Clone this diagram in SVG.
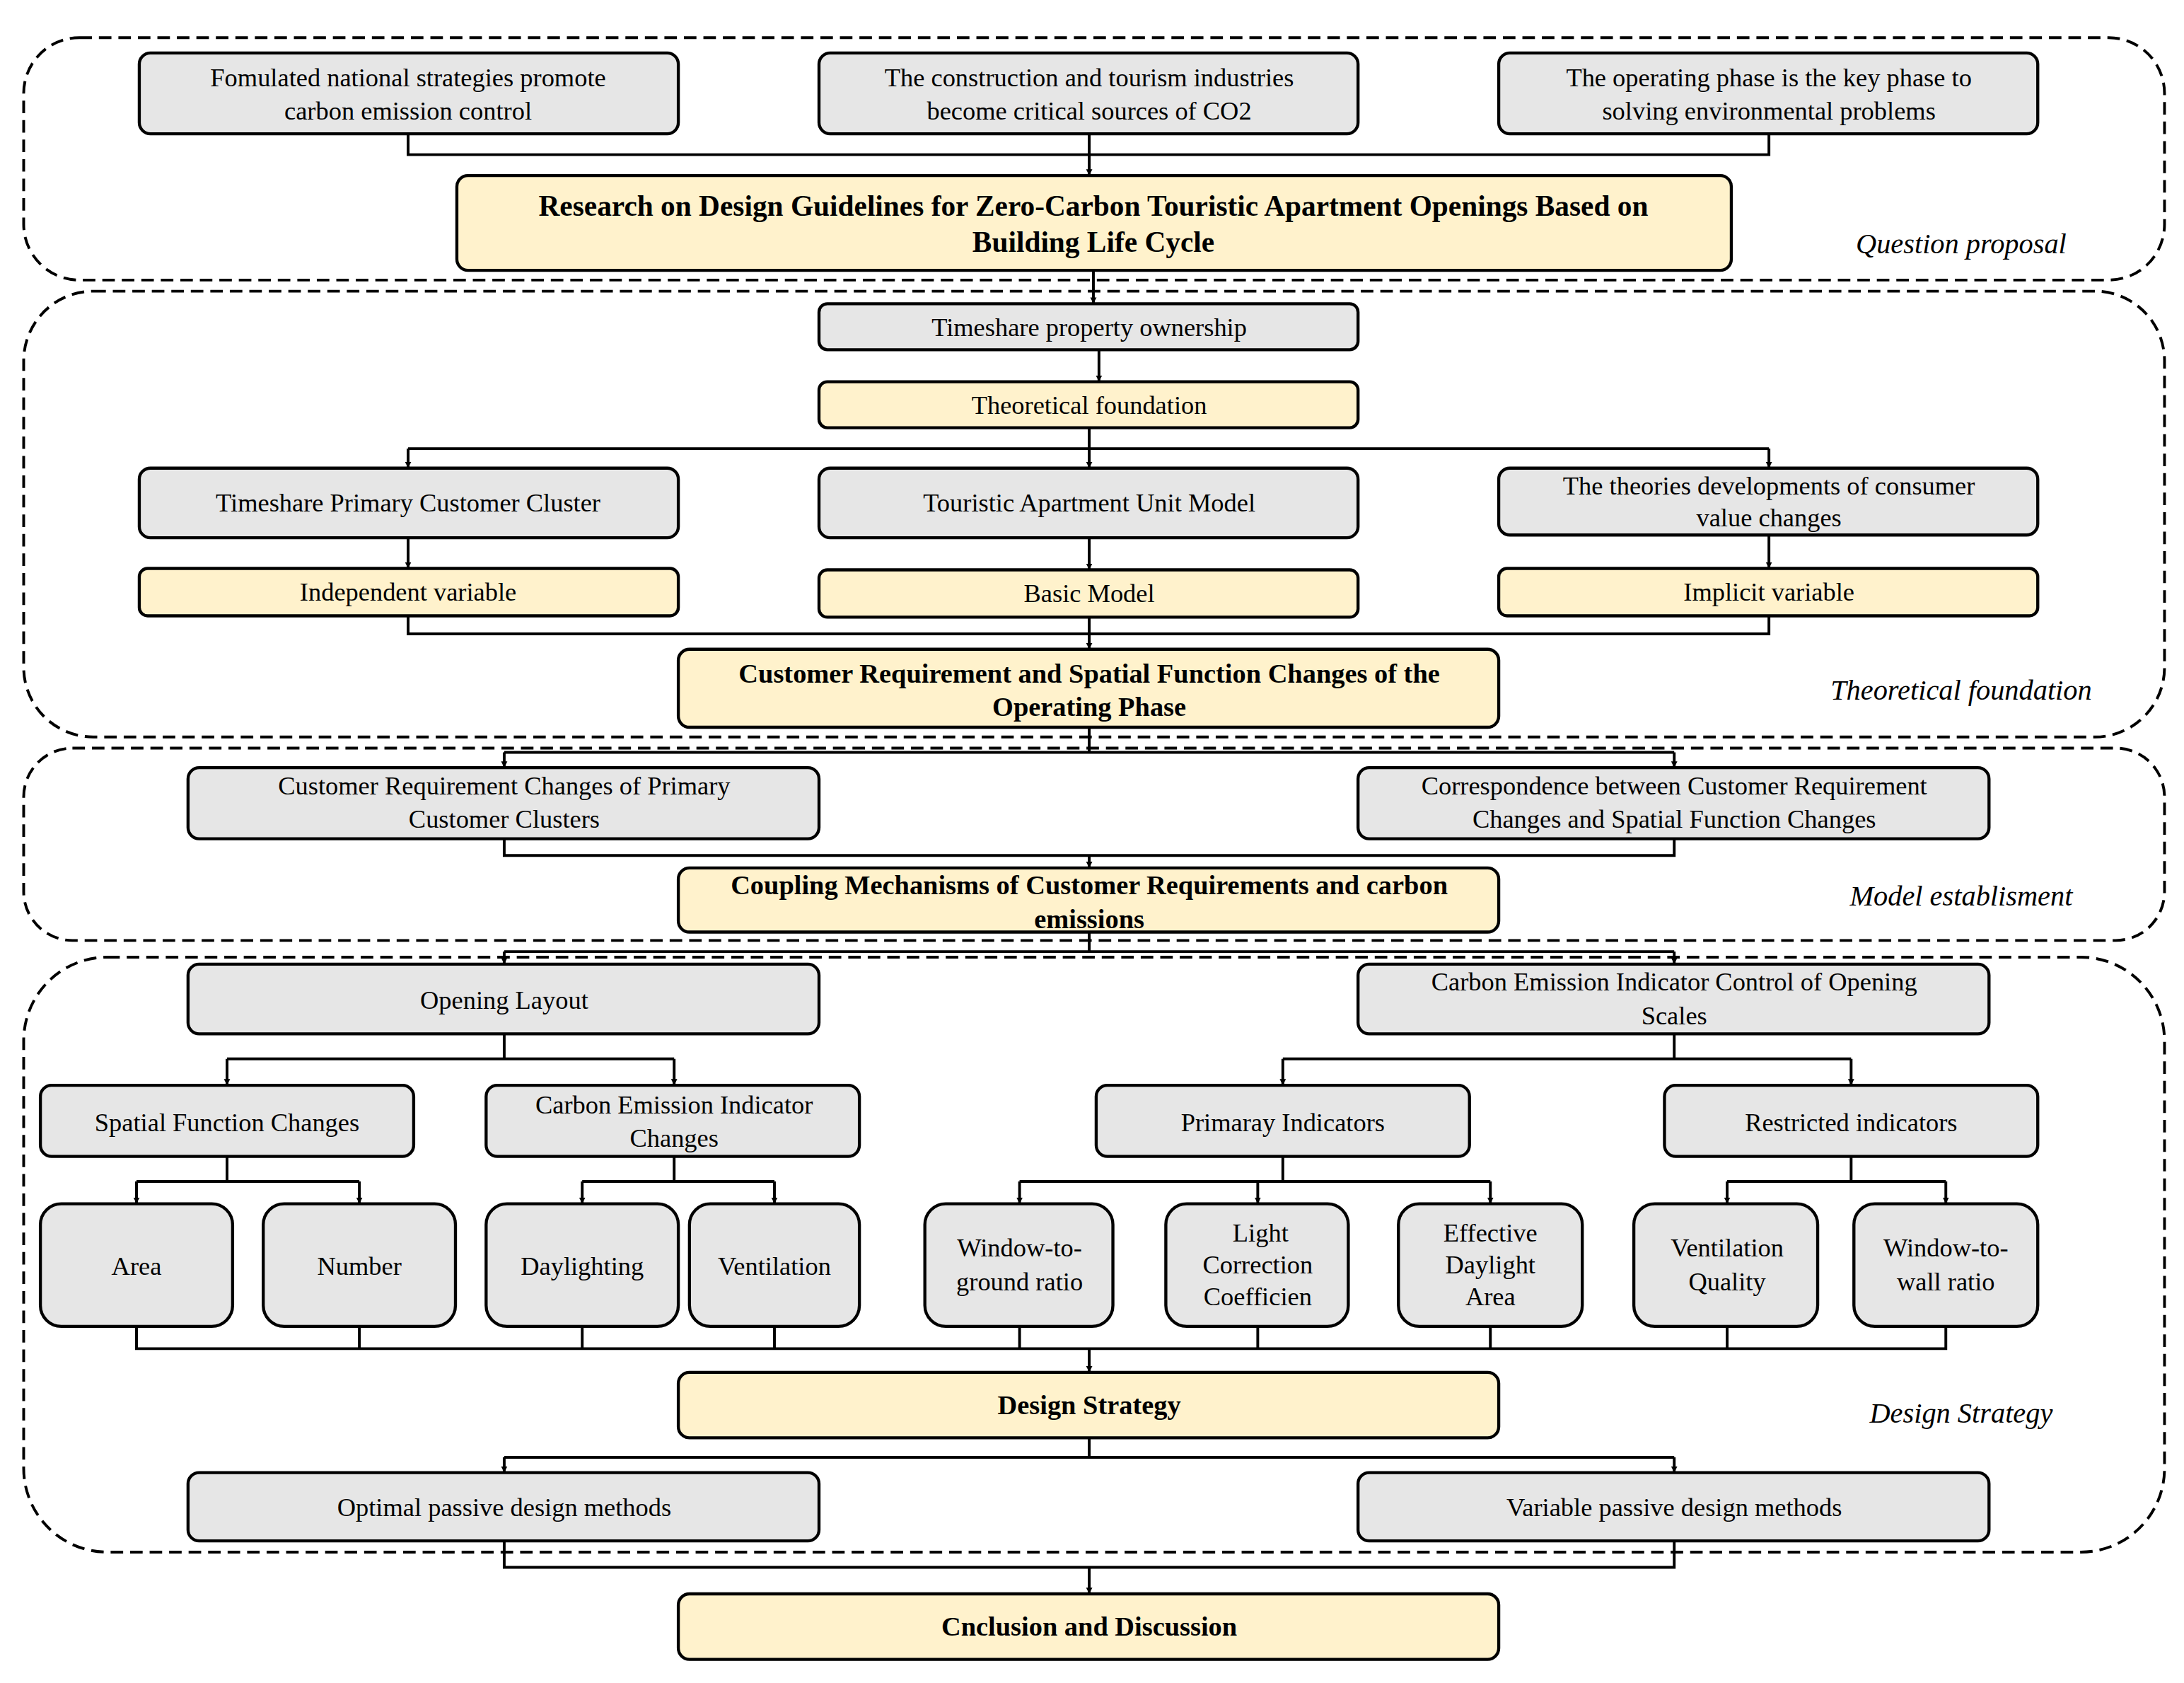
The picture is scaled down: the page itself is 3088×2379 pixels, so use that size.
<svg xmlns="http://www.w3.org/2000/svg" width="3088" height="2379" viewBox="0 0 3088 2379">
<style>
.g{fill:#e6e6e6;stroke:#000;stroke-width:2.2}
.y{fill:#fff2cc;stroke:#000;stroke-width:2.2}
.reg{fill:none;stroke:#000;stroke-width:2;stroke-dasharray:9 5}
text{font-family:"Liberation Serif","Times New Roman",serif;font-size:18.5px;text-anchor:middle;fill:#000}
.b{font-weight:bold;font-size:19.5px}
.t{font-weight:bold;font-size:21px}
.i{font-style:italic;font-size:20.5px}
.c path{fill:none;stroke:#000;stroke-width:2}
</style>
<defs><marker id="a" viewBox="0 0 10 10" refX="10" refY="5" markerWidth="4.5" markerHeight="5.5" orient="auto" markerUnits="userSpaceOnUse"><path d="M0,0L10,5L0,10Z" fill="#000"/></marker></defs>
<rect width="3088" height="2379" fill="#fff"/>
<g transform="scale(1.9694)">
<g id="regions">
<rect class="reg" x="17" y="27" width="1537" height="174" rx="40"/>
<rect class="reg" x="17" y="209" width="1537" height="320" rx="50"/>
<rect class="reg" x="17" y="537" width="1537" height="138" rx="35"/>
<rect class="reg" x="17" y="687" width="1537" height="427" rx="60"/>
<text class="i" x="1408" y="182">Question proposal</text>
<text class="i" x="1408" y="502">Theoretical foundation</text>
<text class="i" x="1408" y="650">Model establisment</text>
<text class="i" x="1408" y="1021">Design Strategy</text>
</g>
<g class="c" id="connectors">
<path d="M293,96V111H1270V96M588,111M782,96V111M782,111V126" marker-end="url(#a)"/>
<path d="M785,194V218" marker-end="url(#a)"/>
<path d="M789,251V274" marker-end="url(#a)"/>
<path d="M782,307V322M293,322H1270"/>
<path d="M293,322V336" marker-end="url(#a)"/><path d="M782,322V336" marker-end="url(#a)"/><path d="M1270,322V336" marker-end="url(#a)"/>
<path d="M293,386V408" marker-end="url(#a)"/><path d="M782,386V409" marker-end="url(#a)"/><path d="M1270,384V408" marker-end="url(#a)"/>
<path d="M293,442V455H1270V442M782,443V455"/><path d="M782,455V466" marker-end="url(#a)"/>
<path d="M782,522V540M362,540H1202"/><path d="M362,540V551" marker-end="url(#a)"/><path d="M1202,540V551" marker-end="url(#a)"/>
<path d="M362,602V614H1202V602"/><path d="M782,614V623" marker-end="url(#a)"/>
<path d="M782,669V683M362,683H1202"/><path d="M362,683V692" marker-end="url(#a)"/><path d="M1202,683V692" marker-end="url(#a)"/>
<path d="M362,742V760M163,760H484"/><path d="M163,760V779" marker-end="url(#a)"/><path d="M484,760V779" marker-end="url(#a)"/>
<path d="M1202,742V760M921,760H1329"/><path d="M921,760V779" marker-end="url(#a)"/><path d="M1329,760V779" marker-end="url(#a)"/>
<path d="M163,830V848M98,848H258"/><path d="M98,848V864" marker-end="url(#a)"/><path d="M258,848V864" marker-end="url(#a)"/>
<path d="M484,830V848M418,848H556"/><path d="M418,848V864" marker-end="url(#a)"/><path d="M556,848V864" marker-end="url(#a)"/>
<path d="M921,830V848M732,848H1070"/><path d="M732,848V864" marker-end="url(#a)"/><path d="M903,848V864" marker-end="url(#a)"/><path d="M1070,848V864" marker-end="url(#a)"/>
<path d="M1329,830V848M1240,848H1397"/><path d="M1240,848V864" marker-end="url(#a)"/><path d="M1397,848V864" marker-end="url(#a)"/>
<path d="M98,952V968H1397V952M258,952V968M418,952V968M556,952V968M732,952V968M903,952V968M1070,952V968M1240,952V968"/>
<path d="M782,968V985" marker-end="url(#a)"/>
<path d="M782,1032V1046M362,1046H1202"/><path d="M362,1046V1057" marker-end="url(#a)"/><path d="M1202,1046V1057" marker-end="url(#a)"/>
<path d="M362,1106V1125H1202V1106"/><path d="M782,1125V1144" marker-end="url(#a)"/>
</g>
<g id="n1"><rect class="g" x="100" y="38" width="387" height="58" rx="8"/><text x="293" y="62">Fomulated national strategies promote</text><text x="293" y="86">carbon emission control</text></g>
<g id="n2"><rect class="g" x="588" y="38" width="387" height="58" rx="8"/><text x="782" y="62">The construction and tourism industries</text><text x="782" y="86">become critical sources of CO2</text></g>
<g id="n3"><rect class="g" x="1076" y="38" width="387" height="58" rx="8"/><text x="1270" y="62">The operating phase is the key phase to</text><text x="1270" y="86">solving environmental problems</text></g>
<g id="title"><rect class="y" x="328" y="126" width="915" height="68" rx="8"/><text class="t" x="785" y="155">Research on Design Guidelines for Zero-Carbon Touristic Apartment Openings Based on</text><text class="t" x="785" y="181">Building Life Cycle</text></g>
<g id="n4"><rect class="g" x="588" y="218" width="387" height="33" rx="6"/><text x="782" y="241">Timeshare property ownership</text></g>
<g id="n5"><rect class="y" x="588" y="274" width="387" height="33" rx="6"/><text x="782" y="297">Theoretical foundation</text></g>
<g id="n6"><rect class="g" x="100" y="336" width="387" height="50" rx="8"/><text x="293" y="367">Timeshare Primary Customer Cluster</text></g>
<g id="n7"><rect class="g" x="588" y="336" width="387" height="50" rx="8"/><text x="782" y="367">Touristic Apartment Unit Model</text></g>
<g id="n8"><rect class="g" x="1076" y="336" width="387" height="48" rx="8"/><text x="1270" y="355">The theories developments of consumer</text><text x="1270" y="378">value changes</text></g>
<g id="n9"><rect class="y" x="100" y="408" width="387" height="34" rx="6"/><text x="293" y="431">Independent variable</text></g>
<g id="n10"><rect class="y" x="588" y="409" width="387" height="34" rx="6"/><text x="782" y="432">Basic Model</text></g>
<g id="n11"><rect class="y" x="1076" y="408" width="387" height="34" rx="6"/><text x="1270" y="431">Implicit variable</text></g>
<g id="n12"><rect class="y" x="487" y="466" width="589" height="56" rx="8"/><text class="b" x="782" y="490">Customer Requirement and Spatial Function Changes of the</text><text class="b" x="782" y="514">Operating Phase</text></g>
<g id="n13"><rect class="g" x="135" y="551" width="453" height="51" rx="8"/><text x="362" y="570">Customer Requirement Changes of Primary</text><text x="362" y="594">Customer Clusters</text></g>
<g id="n14"><rect class="g" x="975" y="551" width="453" height="51" rx="8"/><text x="1202" y="570">Correspondence between Customer Requirement</text><text x="1202" y="594">Changes and Spatial Function Changes</text></g>
<g id="n15"><rect class="y" x="487" y="623" width="589" height="46" rx="8"/><text class="b" x="782" y="642">Coupling Mechanisms of Customer Requirements and carbon</text><text class="b" x="782" y="666">emissions</text></g>
<g id="n16"><rect class="g" x="135" y="692" width="453" height="50" rx="8"/><text x="362" y="724">Opening Layout</text></g>
<g id="n17"><rect class="g" x="975" y="692" width="453" height="50" rx="8"/><text x="1202" y="711">Carbon Emission Indicator Control of  Opening</text><text x="1202" y="735">Scales</text></g>
<g id="n18"><rect class="g" x="29" y="779" width="268" height="51" rx="8"/><text x="163" y="812">Spatial Function Changes</text></g>
<g id="n19"><rect class="g" x="349" y="779" width="268" height="51" rx="8"/><text x="484" y="799">Carbon Emission Indicator</text><text x="484" y="823">Changes</text></g>
<g id="n20"><rect class="g" x="787" y="779" width="268" height="51" rx="8"/><text x="921" y="812">Primaray Indicators</text></g>
<g id="n21"><rect class="g" x="1195" y="779" width="268" height="51" rx="8"/><text x="1329" y="812">Restricted indicators</text></g>
<g id="n22"><rect class="g" x="29" y="864" width="138" height="88" rx="15"/><text x="98" y="915">Area</text></g>
<g id="n23"><rect class="g" x="189" y="864" width="138" height="88" rx="15"/><text x="258" y="915">Number</text></g>
<g id="n24"><rect class="g" x="349" y="864" width="138" height="88" rx="15"/><text x="418" y="915">Daylighting</text></g>
<g id="n25"><rect class="g" x="495" y="864" width="122" height="88" rx="15"/><text x="556" y="915">Ventilation</text></g>
<g id="n26"><rect class="g" x="664" y="864" width="135" height="88" rx="15"/><text x="732" y="902">Window-to-</text><text x="732" y="926">ground ratio</text></g>
<g id="n27"><rect class="g" x="837" y="864" width="131" height="88" rx="15"/><text x="905" y="891">Light</text><text x="903" y="914">Correction</text><text x="903" y="937">Coefficien</text></g>
<g id="n28"><rect class="g" x="1004" y="864" width="132" height="88" rx="15"/><text x="1070" y="891">Effective</text><text x="1070" y="914">Daylight</text><text x="1070" y="937">Area</text></g>
<g id="n29"><rect class="g" x="1173" y="864" width="132" height="88" rx="15"/><text x="1240" y="902">Ventilation</text><text x="1240" y="926">Quality</text></g>
<g id="n30"><rect class="g" x="1331" y="864" width="132" height="88" rx="15"/><text x="1397" y="902">Window-to-</text><text x="1397" y="926">wall ratio</text></g>
<g id="n31"><rect class="y" x="487" y="985" width="589" height="47" rx="8"/><text class="b" x="782" y="1015">Design Strategy</text></g>
<g id="n32"><rect class="g" x="135" y="1057" width="453" height="49" rx="8"/><text x="362" y="1088">Optimal passive design methods</text></g>
<g id="n33"><rect class="g" x="975" y="1057" width="453" height="49" rx="8"/><text x="1202" y="1088">Variable passive design methods</text></g>
<g id="n34"><rect class="y" x="487" y="1144" width="589" height="47" rx="8"/><text class="b" x="782" y="1174">Cnclusion and Discussion</text></g>
</g>
</svg>
